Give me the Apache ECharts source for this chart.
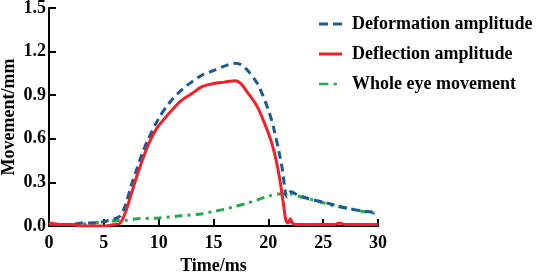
<!DOCTYPE html>
<html>
<head>
<meta charset="utf-8">
<script src="https://cdn.jsdelivr.net/npm/echarts@6/dist/echarts.min.js"></script>
<style>
  html, body { margin: 0; padding: 0; background: #fff; }
  #main { width: 540px; height: 274px; }
</style>
</head>
<body>
<div id="main"></div>
<script>
// values
var timeDeform = [0, 1, 2, 3, 4, 5, 6, 6.5, 7, 7.5, 8, 8.5, 9, 10, 11, 12, 13, 14, 15, 16, 17, 17.5, 18, 19, 20, 20.5, 21, 21.3, 21.7, 22.05, 22.5, 23, 24, 25, 26, 27, 28, 29, 30];
var deform = [0.01, 0.01, 0.01, 0.02, 0.02, 0.03, 0.05, 0.07, 0.15, 0.28, 0.39, 0.5, 0.59, 0.74, 0.85, 0.93, 0.99, 1.04, 1.07, 1.1, 1.12, 1.11, 1.08, 0.98, 0.8, 0.67, 0.5, 0.38, 0.2, 0.235, 0.22, 0.205, 0.18, 0.165, 0.145, 0.125, 0.11, 0.1, 0.09];

var timeDeflect = [0, 1, 2, 3, 4, 5, 6, 6.5, 7, 7.5, 8, 8.5, 9, 9.5, 10, 11, 12, 13, 14, 15, 16, 17, 17.5, 18, 19, 20, 20.5, 21, 21.4, 21.6, 21.8, 22.0, 22.2, 22.5, 23, 24, 25, 26, 26.5, 27, 28, 29, 30];
var deflect = [0.02, 0.01, 0.01, 0.0, 0.0, 0.0, 0.01, 0.02, 0.1, 0.22, 0.34, 0.45, 0.55, 0.63, 0.69, 0.78, 0.86, 0.91, 0.96, 0.98, 0.99, 1.0, 0.98, 0.93, 0.82, 0.64, 0.52, 0.34, 0.14, 0.04, 0.02, 0.05, 0.02, 0.01, 0.01, 0.01, 0.01, 0.01, 0.02, 0.01, 0.01, 0.01, 0.01];

var timeWhole = [0, 2, 4, 5, 6, 7, 8, 10, 12, 14, 15, 16, 17, 18, 19, 20, 21, 22, 23, 24, 25, 26, 27, 28, 29, 30];
var whole = [0.01, 0.01, 0.02, 0.03, 0.035, 0.04, 0.05, 0.055, 0.07, 0.085, 0.1, 0.115, 0.135, 0.155, 0.18, 0.205, 0.22, 0.22, 0.2, 0.18, 0.16, 0.14, 0.125, 0.11, 0.095, 0.085];

var xTicks = [0, 5, 10, 15, 20, 25, 30];
var yTicks = [0, 0.3, 0.6, 0.9, 1.2, 1.5];

function pairs(ts, vs) {
  return ts.map(function (t, i) { return [t, vs[i]]; });
}

var font = '"Liberation Serif", "Times New Roman", serif';
var chart = echarts.init(document.getElementById('main'));

var option = {
  animation: false,
  grid: { left: 49, right: 162, top: 8, bottom: 48, outerBoundsMode: 'none', containLabel: false },
  legend: {
    orient: 'vertical',
    left: 314,
    top: 10,
    itemWidth: 23,
    itemHeight: 3,
    itemGap: 12,
    itemStyle: { borderWidth: 0 },
    textStyle: { fontFamily: font, fontWeight: 'bold', fontSize: 18, color: '#000', lineHeight: 18, padding: [0, 0, 0, 5] },
    data: [
      { name: 'Deformation amplitude', icon: 'path://M0,0h9v3h-9z M14,0h9v3h-9z' },
      { name: 'Deflection amplitude', icon: 'rect' },
      { name: 'Whole eye movement', icon: 'path://M0,0h11v3h-11z M17,0h4v3h-4z M27,0h0.01v3h-0.01z' }
    ]
  },
  xAxis: {
    type: 'value',
    min: xTicks[0],
    max: xTicks[xTicks.length - 1],
    interval: 5,
    name: 'Time/ms',
    nameLocation: 'middle',
    nameGap: 24,
    nameTextStyle: { fontFamily: font, fontWeight: 'bold', fontSize: 18, color: '#000' },
    axisLine: { lineStyle: { color: '#000', width: 2 } },
    axisTick: { inside: true, length: 7, lineStyle: { color: '#000', width: 2 } },
    axisLabel: { fontFamily: font, fontWeight: 'bold', fontSize: 18, color: '#000', margin: 8 },
    splitLine: { show: false }
  },
  yAxis: {
    type: 'value',
    min: yTicks[0],
    max: yTicks[yTicks.length - 1],
    interval: 0.3,
    name: 'Movement/mm',
    nameLocation: 'middle',
    nameGap: 31,
    nameMoveOverlap: false,
    nameTextStyle: { fontFamily: font, fontWeight: 'bold', fontSize: 18, color: '#000' },
    axisLine: { show: true, lineStyle: { color: '#000', width: 2 } },
    axisTick: { show: true, inside: true, length: 7, lineStyle: { color: '#000', width: 2 } },
    axisLabel: {
      fontFamily: font, fontWeight: 'bold', fontSize: 18, color: '#000', margin: 3,
      formatter: function (v) { return v.toFixed(1); }
    },
    splitLine: { show: false }
  },
  series: [
    {
      name: 'Deformation amplitude',
      type: 'line',
      symbol: 'none',
      smooth: 0.3,
      data: pairs(timeDeform, deform),
      itemStyle: { color: '#1b5a94' },
      lineStyle: { color: '#1b5a94', width: 3, type: [8, 5] },
      z: 2
    },
    {
      name: 'Deflection amplitude',
      type: 'line',
      symbol: 'none',
      smooth: 0.3,
      data: pairs(timeDeflect, deflect),
      itemStyle: { color: '#f41f2b' },
      lineStyle: { color: '#f41f2b', width: 3 },
      z: 3
    },
    {
      name: 'Whole eye movement',
      type: 'line',
      symbol: 'none',
      smooth: 0.3,
      data: pairs(timeWhole, whole),
      itemStyle: { color: '#21ad4a' },
      lineStyle: { color: '#21ad4a', width: 3, type: [8, 5, 3, 5] },
      z: 1
    }
  ]
};

chart.setOption(option);
</script>
</body>
</html>
